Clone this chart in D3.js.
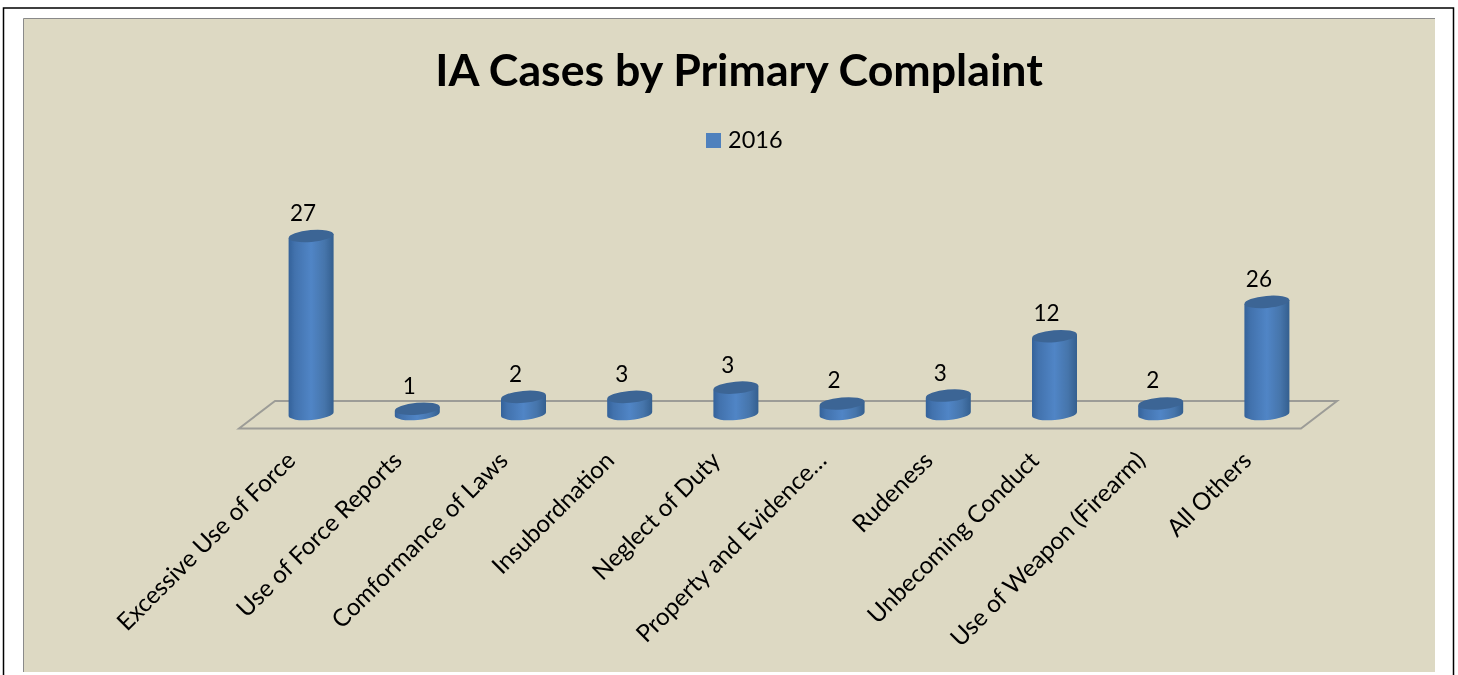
<!DOCTYPE html>
<html><head><meta charset="utf-8">
<script src="https://cdn.jsdelivr.net/npm/d3@7"></script>
<style>html,body{margin:0;padding:0;background:#fff}svg{display:block;filter:blur(.35px)}text{font-family:Lato,"Open Sans",sans-serif;fill:#000}</style>
</head><body><svg id="c" width="1458" height="675"></svg>
<script>
const categories=["Excessive Use of Force","Use of Force Reports","Comformance of Laws","Insubordnation","Neglect of Duty","Property and Evidence…","Rudeness","Unbecoming Conduct","Use of Weapon (Firearm)","All Others"];
const labelValues=[27,1,2,3,3,2,3,12,2,26];
// heights as actually drawn in the picture, in the same units as the labels
const drawnValues=[27,0.8,2.6,2.6,4,1.6,2.8,11.8,1.6,17];
const seriesName="2016";
const title="IA Cases by Primary Complaint";

const svg=d3.select("#c");
const defs=svg.append("defs");
const g=defs.append("linearGradient").attr("id","cyl");
[[0,"#34629a"],[.14,"#4272ad"],[.5,"#5085c6"],[.8,"#4675ab"],[1,"#345f8f"]].forEach(s=>g.append("stop").attr("offset",s[0]).attr("stop-color",s[1]));

svg.append("rect").attr("x",3.5).attr("y",8).attr("width",1450).attr("height",680).attr("fill","#fff").attr("stroke","#000").attr("stroke-width",1.5);
svg.append("rect").attr("x",23.5).attr("y",18.5).attr("width",1411.5).attr("height",653.5).attr("fill","#ddd9c3");
svg.append("path").attr("d","M23.5 672V18.5H1435").attr("fill","none").attr("stroke","#8a8a8a").attr("stroke-width",1);

const x=d3.scaleBand().domain(categories).range([258,1320]).paddingInner(0);
const y=d3.scaleLinear().domain([0,27]).range([414,236]);
const rx=22.5,ry=6,tilt=-5;
const cx=d=>x(d)+x.bandwidth()/2;
const lift=rx*Math.sin(-tilt*Math.PI/180);

svg.append("path").attr("d",`M239 428.5L275 401H1337L1301 428.5Z`).attr("fill","none").attr("stroke","#9c9c97").attr("stroke-width",2);

svg.append("text").attr("x",739).attr("y",86).attr("text-anchor","middle").attr("font-size",44.7).attr("font-weight",700).text(title);
svg.append("rect").attr("x",706).attr("y",133).attr("width",15).attr("height",15).attr("fill","#4f81bd");
svg.append("text").attr("x",728).attr("y",148).attr("font-size",23.5).text(seriesName);

const bars=svg.selectAll("g.bar").data(categories).join("g").attr("class","bar").attr("transform",d=>`translate(${cx(d)},0)`);
bars.append("path").attr("fill","url(#cyl)").attr("d",(d,i)=>{
  const t=y(drawnValues[i]),b=y(0);
  return `M${-rx} ${t+lift}L${rx} ${t-lift}L${rx} ${b-lift}A${rx} ${ry} ${tilt} 0 1 ${-rx} ${b+lift}Z`;
});
bars.append("ellipse").attr("rx",rx).attr("ry",ry).attr("fill","#3c6595").attr("transform",(d,i)=>`translate(0,${y(drawnValues[i])}) rotate(${tilt})`);
bars.append("text").attr("x",-8).attr("y",(d,i)=>y(drawnValues[i])-15).attr("text-anchor","middle").attr("font-size",22.5).text((d,i)=>labelValues[i]);

const ax=svg.append("g").attr("transform","translate(-14,450)").call(d3.axisBottom(x).tickSize(0));
ax.select(".domain").remove();
ax.selectAll("text").attr("font-size",24.2).attr("text-anchor","end").attr("dx",0).attr("dy",0).attr("y",0).attr("x",0).attr("transform","translate(0,12) rotate(-45)").style("font-family","Lato").style("fill","#000");
</script></body></html>
